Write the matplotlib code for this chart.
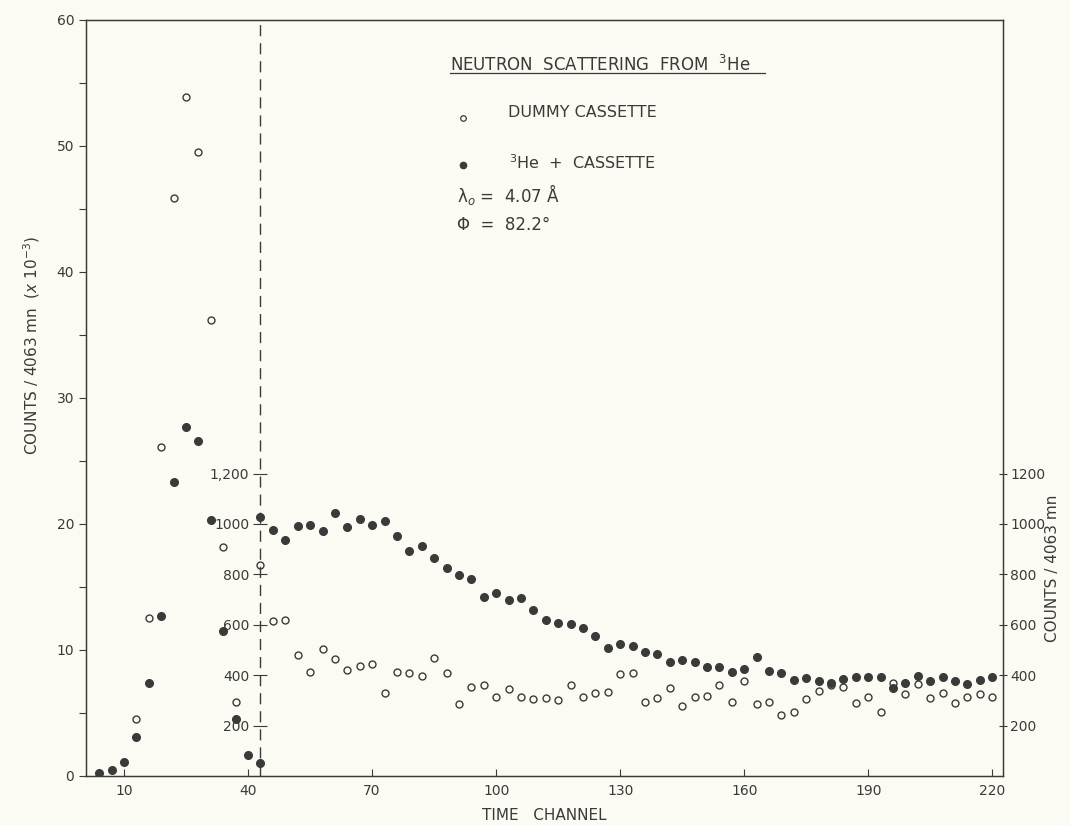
import matplotlib
matplotlib.use("Agg")
import matplotlib.pyplot as plt
import numpy as np

# --- data -------------------------------------------------------------------
# left of the divider: counts / 4063 mn in units of 10^3
early_channels_full = np.arange(4, 44, 3)
early_he3 = [0.26, 0.48, 1.1, 3.1, 7.4, 12.7, 23.3, 27.7, 26.6, 20.3, 11.5, 4.5, 1.7, 1.0]
early_channels_dummy = np.arange(13, 38, 3)
early_dummy = [4.55, 12.5, 26.1, 45.9, 53.9, 49.5, 36.2, 18.2, 5.9]

# right of the divider: plain counts / 4063 mn
late_channels = np.arange(43, 221, 3)
late_he3 = [1026, 976, 936, 993, 997, 972, 1045, 990, 1021, 995,
            1013, 954, 894, 914, 864, 825, 799, 780, 710, 727,
            697, 708, 660, 618, 607, 603, 586, 554, 508, 525,
            517, 493, 483, 454, 460, 452, 431, 434, 413, 426,
            471, 417, 407, 382, 390, 378, 368, 384, 393, 393,
            393, 348, 369, 396, 376, 392, 377, 365, 382, 392]
late_dummy = [837, 615, 619, 479, 414, 503, 463, 422, 437, 444,
              329, 411, 409, 398, 469, 407, 286, 353, 362, 312,
              344, 312, 304, 308, 302, 361, 313, 331, 332, 403,
              407, 292, 308, 350, 278, 315, 317, 362, 292, 376,
              287, 294, 241, 253, 304, 338, 360, 353, 290, 315,
              254, 370, 325, 364, 308, 329, 291, 313, 324, 313]

divider = 43
x_ticks = [10, 40, 70, 100, 130, 160, 190, 220]
left_ticks = [0, 10, 20, 30, 40, 50, 60]
count_ticks = [200, 400, 600, 800, 1000, 1200]
inner_labels = ["200", "400", "600", "800", "1000", "1,200"]
scale = 50  # counts per left-axis unit (x10^-3 axis vs counts axis)

ink = "#3a3a3a"
paper = "#fbfbf3"
plt.rcParams["font.family"] = "DejaVu Sans"

fig = plt.figure(figsize=(10.7, 8.25), dpi=100, facecolor=paper)
ax = fig.add_axes([0.0804, 0.0594, 0.857, 0.9164])
ax.set_facecolor(paper)

ax.set_xlim(0.8, 222.6)
ax.set_ylim(0, 60)

# early part, left scale
ax.plot(early_channels_dummy, early_dummy, "o", mfc="none", mec=ink, ms=5, mew=1.0)
ax.plot(early_channels_full, early_he3, "o", color=ink, ms=5.5)

# late part on the counts scale
axc = ax.twinx()
axc.set_ylim(0, 60 * scale)
axc.plot(late_channels, late_dummy, "o", mfc="none", mec=ink, ms=5, mew=1.0)
axc.plot(late_channels, late_he3, "o", color=ink, ms=5.5)
axc.set_yticks(count_ticks)
axc.set_yticklabels([str(t) for t in count_ticks])
axc.tick_params(axis="y", direction="inout", length=6, width=0.8, colors=ink,
                labelsize=10, pad=2)
axc.set_ylabel("COUNTS / 4063 mn", color=ink, fontsize=11)
axc.yaxis.set_label_coords(1.046, 0.275)
for s in axc.spines.values():
    s.set_color(ink)

# inner counts scale sitting on the divider
axi = ax.twinx()
axi.set_ylim(0, 60 * scale)
for name, s in axi.spines.items():
    s.set_visible(False)
axi.spines["left"].set_position(("data", divider))
axi.yaxis.tick_left()
axi.set_yticks(count_ticks)
axi.set_yticklabels(inner_labels)
axi.tick_params(axis="y", direction="inout", length=10, width=0.8, colors=ink,
                labelsize=10, pad=3)

ax.axvline(divider, color=ink, lw=1.0, ls=(0, (8, 5)))

ax.set_xticks(x_ticks)
ax.set_yticks(left_ticks)
ax.set_yticks(np.arange(5, 60, 10), minor=True)
ax.tick_params(axis="x", direction="in", length=5, width=0.8, colors=ink,
               labelsize=10, pad=6)
ax.tick_params(axis="y", which="both", direction="out", length=5, width=0.8,
               colors=ink, labelsize=10)
for s in ax.spines.values():
    s.set_color(ink)
    s.set_linewidth(1.0)

ax.set_xlabel("TIME   CHANNEL", color=ink, fontsize=11, labelpad=7)
ax.set_ylabel("COUNTS / 4063 mn  ($x$ 10$^{-3}$)", color=ink, fontsize=11)
ax.yaxis.set_label_coords(-0.048, 0.57)

# legend block in the upper part
tr = ax.transAxes
ax.text(0.397, 0.940, "NEUTRON  SCATTERING  FROM  $^3$He", transform=tr,
        color=ink, fontsize=12, va="center")
ax.plot([0.397, 0.740], [0.930, 0.930], color=ink, lw=0.9, transform=tr)
ax.plot([0.411], [0.870], "o", mfc="none", mec=ink, ms=4, mew=0.9, transform=tr)
ax.text(0.460, 0.877, "DUMMY CASSETTE", transform=tr, color=ink, fontsize=11.5,
        va="center")
ax.plot([0.411], [0.808], "o", color=ink, ms=4.5, transform=tr)
ax.text(0.461, 0.811, "$^3$He  +  CASSETTE", transform=tr, color=ink,
        fontsize=11.5, va="center")
ax.text(0.405, 0.769, "λ$_o$ =  4.07 Å", transform=tr, color=ink, fontsize=12,
        va="center")
ax.text(0.405, 0.729, "Φ  =  82.2°", transform=tr, color=ink, fontsize=12,
        va="center")

fig.savefig("out.png", dpi=100, facecolor=paper)
